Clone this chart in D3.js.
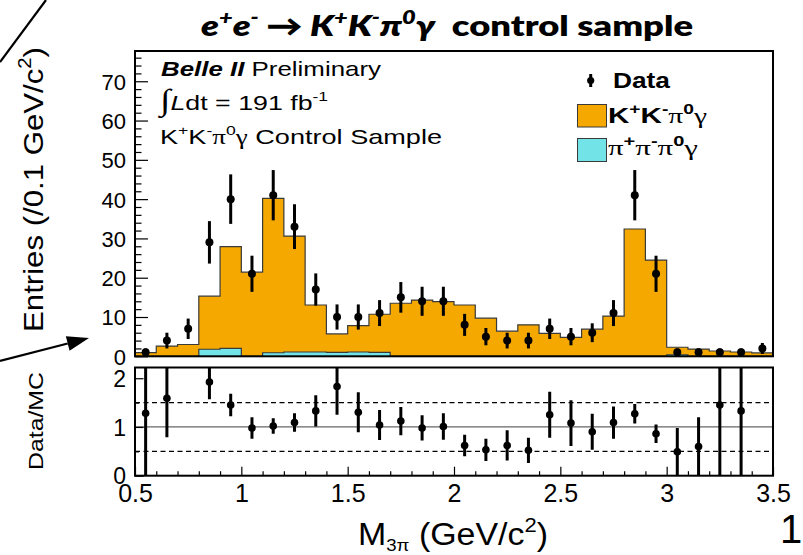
<!DOCTYPE html>
<html><head><meta charset="utf-8">
<script src="https://cdn.jsdelivr.net/npm/d3@7"></script>
<style>body{margin:0;background:#fff} text{white-space:pre}</style>
</head><body>
<svg id="c" width="803" height="555" xmlns="http://www.w3.org/2000/svg"></svg>
<script>
// ---------- data ----------
const binLo = [0.5,0.6,0.7,0.8,0.9,1.0,1.1,1.2,1.3,1.4,1.5,1.6,1.7,1.8,1.9,2.0,2.1,2.2,2.3,2.4,2.5,2.6,2.7,2.8,2.9,3.0,3.1,3.2,3.3,3.4];
const binWidth = 0.1;
const dataCounts = [1,4,7,29,40,21,41,33,17,10,10,11,15,14,14,8,5,4,4,7,5,6,11,41,21,1,1,1,1,2];
const dataErr   = [1,2,2.6,5.4,6.3,4.6,6.4,5.7,4.1,3.2,3.2,3.3,3.9,3.7,3.7,2.8,2.2,2,2,2.6,2.2,2.4,3.3,6.4,4.6,1,1,1,1,1.4];
const kkpi0g    = [0.92,2.6,3.0,13.5,25.9,21.4,39.3,29.5,11.95,4.7,6.7,9.7,13.5,14.3,13.9,13.05,9.7,6.4,8.0,5.85,4.8,6.9,10.25,32.4,24.5,1.9,1.85,1.35,1.1,0.85];
const pipipi0g  = [0,0,0,1.8,2.0,0,0.9,1.1,1.1,1.0,1.1,1.0,0,0,0,0,0,0,0,0,0,0,0,0,0,0.4,0,0,0,0];
const ratio     = [1.28,1.59,2.41,1.92,1.45,0.98,1.02,1.09,1.33,1.83,1.30,1.04,1.12,0.98,1.01,0.62,0.53,0.62,0.52,1.25,1.08,0.90,1.09,1.27,0.86,0.49,0.60,1.45,1.33,2.40];
const ratioErr  = [1.3,0.8,0.9,0.35,0.23,0.22,0.16,0.19,0.32,0.58,0.41,0.31,0.29,0.26,0.27,0.22,0.23,0.31,0.26,0.47,0.47,0.37,0.33,0.2,0.19,0.49,0.6,1.45,1.33,1.7];
const yTicksMain = [0,10,20,30,40,50,60,70];
const yMinorMain = [2,4,6,8,12,14,16,18,22,24,26,28,32,34,36,38,42,44,46,48,52,54,56,58,62,64,66,68,72,74,76];
const xTicks = [0.5,1,1.5,2,2.5,3,3.5];
const xTickLabels = ["0.5","1","1.5","2","2.5","3","3.5"];
const xMinor = [0.6,0.7,0.8,0.9,1.1,1.2,1.3,1.4,1.6,1.7,1.8,1.9,2.1,2.2,2.3,2.4,2.6,2.7,2.8,2.9,3.1,3.2,3.3,3.4];
const yTicksRatio = [0,1,2];
const yMinorRatio = [0.5,1.5];
const refLines = [0.5,1,1.5];

// ---------- layout ----------
const svg = d3.select("#c");
const L = 135, R = 773;
const mainTop = 51, mainBot = 356.3;
const ratTop = 367.5, ratBot = 475.7;
const ORANGE = "#f5a900", TEAL = "#72e4e8", EDGE = "#3a3a3a";
const SANS = "'Liberation Sans', Arial, sans-serif";
const SERIF = "'Liberation Serif', 'Times New Roman', serif";

const x = d3.scaleLinear().domain([0.5,3.5]).range([L,R]);
const y = d3.scaleLinear().domain([0,77.7]).range([mainBot,mainTop]);
const yr = d3.scaleLinear().domain([0,2.22]).range([ratBot,ratTop]);

function rich(t, parts, fs){
  let cur = 0;
  for(const p of parts){
    const off = p.sup ? -0.42*fs : (p.sub ? (p.subOff||0.32)*fs : 0);
    const ts = t.append("tspan").attr("dy", off-cur).text(p.t);
    cur = off;
    if(p.sup||p.sub) ts.attr("font-size", (p.ss||0.65)*fs);
    if(p.ff) ts.attr("font-family", p.ff);
    if(p.fw) ts.attr("font-weight", p.fw);
    if(p.fst) ts.attr("font-style", p.fst);
    if(p.fs) ts.attr("font-size", p.fs);
  }
  return t;
}

// ---------- main histogram ----------
const rows = binLo.map((lo,i)=>({lo, pipi:pipipi0g[i], kk:kkpi0g[i]}));
rows.push({lo: binLo[binLo.length-1]+binWidth, pipi: pipipi0g[pipipi0g.length-1], kk: kkpi0g[kkpi0g.length-1]});
const stack = d3.stack().keys(["pipi","kk"])(rows);
const gMain = svg.append("g");
const area = d3.area().curve(d3.curveStepAfter).x(d=>x(d.data.lo)).y0(y(0)).y1(d=>y(d[1]));
const topLine = d3.line().curve(d3.curveStepAfter).x(d=>x(d.data.lo)).y(d=>y(d[1]));
gMain.append("path").datum(stack[1]).attr("d", area).attr("fill", ORANGE);
gMain.append("path").datum(stack[1]).attr("d", topLine).attr("fill","none").attr("stroke",EDGE).attr("stroke-width",1.2);
gMain.append("path").datum(stack[0]).attr("d", area).attr("fill", TEAL);
gMain.append("path").datum(stack[0]).attr("d", topLine).attr("fill","none").attr("stroke",EDGE).attr("stroke-width",1.2);
gMain.append("path").attr("d", `M${x(0.5)},${y(0)}V${y(stack[1][0][1])}M${x(3.5)},${y(0)}V${y(stack[1][29][1])}`)
  .attr("stroke",EDGE).attr("stroke-width",1.2);

// data points main
const centers = binLo.map(v=>v+binWidth/2);
const gData = svg.append("g");
gData.selectAll("line").data(centers).join("line")
  .attr("x1",d=>x(d)).attr("x2",d=>x(d))
  .attr("y1",(d,i)=>y(Math.min(77.7,dataCounts[i]+dataErr[i])))
  .attr("y2",(d,i)=>y(Math.max(0,dataCounts[i]-dataErr[i])))
  .attr("stroke","#000").attr("stroke-width",3);
gData.selectAll("circle").data(centers).join("circle")
  .attr("cx",d=>x(d)).attr("cy",(d,i)=>y(dataCounts[i])).attr("r",4).attr("fill","#000");

// main frame
svg.append("rect").attr("x",L).attr("y",mainTop).attr("width",R-L).attr("height",mainBot-mainTop)
  .attr("fill","none").attr("stroke","#000").attr("stroke-width",2);

// main y axis
const axMain = svg.append("g").attr("transform",`translate(${L},0)`)
  .call(d3.axisLeft(y).tickValues(yTicksMain).tickSize(-13).tickPadding(9).tickFormat(d3.format("d")));
axMain.select(".domain").remove();
axMain.selectAll("line").attr("stroke-width",1.2);
axMain.selectAll("text").attr("font-family",SANS).attr("font-size",22).attr("fill","#000").attr("dy","0.36em");
const axMainMinor = svg.append("g").attr("transform",`translate(${L},0)`)
  .call(d3.axisLeft(y).tickValues(yMinorMain).tickSize(-6.5).tickFormat(""));
axMainMinor.select(".domain").remove();
axMainMinor.selectAll("line").attr("stroke-width",1.2);

// ---------- ratio panel ----------
svg.append("clipPath").attr("id","rclip").append("rect")
  .attr("x",L).attr("y",ratTop).attr("width",R-L).attr("height",ratBot-ratTop);
const gR = svg.append("g").attr("clip-path","url(#rclip)");
gR.selectAll("line.ref").data(refLines).join("line").attr("class","ref")
  .attr("x1",L).attr("x2",R).attr("y1",d=>yr(d)).attr("y2",d=>yr(d))
  .attr("stroke",d=>d===1?"#666":"#000").attr("stroke-width",1.2)
  .attr("stroke-dasharray",d=>d===1?null:"5,3.5");
const rIdx = centers.map((c,i)=>i).filter(i=>ratio[i] <= 2.22);
gR.selectAll("line.err").data(rIdx).join("line").attr("class","err")
  .attr("x1",i=>x(centers[i])).attr("x2",i=>x(centers[i]))
  .attr("y1",i=>yr(ratio[i]+ratioErr[i])).attr("y2",i=>yr(Math.max(-0.1,ratio[i]-ratioErr[i])))
  .attr("stroke","#000").attr("stroke-width",3);
gR.selectAll("circle").data(rIdx).join("circle")
  .attr("cx",i=>x(centers[i])).attr("cy",i=>yr(ratio[i])).attr("r",3.8).attr("fill","#000");

svg.append("rect").attr("x",L).attr("y",ratTop).attr("width",R-L).attr("height",ratBot-ratTop)
  .attr("fill","none").attr("stroke","#000").attr("stroke-width",2);

const axRX = svg.append("g").attr("transform",`translate(0,${ratBot})`)
  .call(d3.axisBottom(x).tickValues(xTicks).tickSize(-9).tickPadding(9).tickFormat((d,i)=>xTickLabels[i]));
axRX.select(".domain").remove();
axRX.selectAll("line").attr("stroke-width",1.2);
axRX.selectAll("text").attr("font-family",SANS).attr("font-size",25).attr("fill","#000");
const axRXm = svg.append("g").attr("transform",`translate(0,${ratBot})`)
  .call(d3.axisBottom(x).tickValues(xMinor).tickSize(-4.5).tickFormat(""));
axRXm.select(".domain").remove();
axRXm.selectAll("line").attr("stroke-width",1.2);

const axRY = svg.append("g").attr("transform",`translate(${L},0)`)
  .call(d3.axisLeft(yr).tickValues(yTicksRatio).tickSize(-8.5).tickPadding(9).tickFormat(d3.format("d")));
axRY.select(".domain").remove();
axRY.selectAll("line").attr("stroke-width",1.2);
axRY.selectAll("text").attr("font-family",SANS).attr("font-size",23).attr("fill","#000").attr("dy","0.36em");
const axRYm = svg.append("g").attr("transform",`translate(${L},0)`)
  .call(d3.axisLeft(yr).tickValues(yMinorRatio).tickSize(-4).tickFormat(""));
axRYm.select(".domain").remove();
axRYm.selectAll("line").attr("stroke-width",1.2);

// ---------- texts ----------
const SUP = true;
rich(svg.append("text").attr("x",201).attr("y",36).attr("font-family","Lato, 'Open Sans', sans-serif")
  .attr("font-weight",800).attr("font-style","italic").attr("font-size",29)
  .attr("textLength",492).attr("lengthAdjust","spacingAndGlyphs"),
  [{t:"e"},{t:"+",sup:SUP},{t:"e"},{t:"-",sup:SUP},{t:" → "},{t:"K"},{t:"+",sup:SUP},{t:"K"},{t:"-",sup:SUP},
   {t:"π"},{t:"0",sup:SUP},{t:"γ"},{t:"  control sample",fst:"normal"}], 29);

rich(svg.append("text").attr("x",161).attr("y",76).attr("font-family",SANS).attr("font-size",21)
  .attr("textLength",220).attr("lengthAdjust","spacingAndGlyphs"),
  [{t:"Belle II",fw:"bold",fst:"italic"},{t:" Preliminary"}], 21);
rich(svg.append("text").attr("x",160).attr("y",110).attr("font-family",SANS).attr("font-size",21)
  .attr("textLength",168).attr("lengthAdjust","spacingAndGlyphs"),
  [{t:"∫",ff:SERIF,fs:30},{t:"L",fst:"italic"},{t:"dt = 191 fb"},{t:"-1",sup:SUP}], 21);
rich(svg.append("text").attr("x",160).attr("y",144).attr("font-family",SANS).attr("font-size",21)
  .attr("textLength",282).attr("lengthAdjust","spacingAndGlyphs"),
  [{t:"K"},{t:"+",sup:SUP},{t:"K"},{t:"-",sup:SUP},{t:"π",ff:SERIF},{t:"0",sup:SUP},{t:"γ",ff:SERIF},{t:" Control Sample"}], 21);

// Legend
svg.append("line").attr("x1",590.7).attr("x2",590.7).attr("y1",74).attr("y2",87).attr("stroke","#000").attr("stroke-width",3);
svg.append("circle").attr("cx",590.7).attr("cy",80.5).attr("r",3.6).attr("fill","#000");
svg.append("text").attr("x",613).attr("y",88).attr("font-family",SANS).attr("font-weight","bold").attr("font-size",22)
  .attr("textLength",57).attr("lengthAdjust","spacingAndGlyphs").text("Data");
svg.append("rect").attr("x",577.5).attr("y",104.5).attr("width",29).attr("height",22.5).attr("fill",ORANGE).attr("stroke",EDGE).attr("stroke-width",1);
svg.append("rect").attr("x",577.5).attr("y",138.5).attr("width",29).attr("height",23).attr("fill",TEAL).attr("stroke",EDGE).attr("stroke-width",1);
rich(svg.append("text").attr("x",608).attr("y",123).attr("font-family",SANS).attr("font-size",22)
  .attr("textLength",99).attr("lengthAdjust","spacingAndGlyphs"),
  [{t:"K",fw:"bold"},{t:"+",sup:SUP,fw:"bold"},{t:"K",fw:"bold"},{t:"-",sup:SUP,fw:"bold"},{t:"π",ff:SERIF},{t:"0",sup:SUP,fw:"bold"},{t:"γ",ff:SERIF}], 22);
rich(svg.append("text").attr("x",608).attr("y",155).attr("font-family",SANS).attr("font-size",22)
  .attr("textLength",90).attr("lengthAdjust","spacingAndGlyphs"),
  [{t:"π",ff:SERIF},{t:"+",sup:SUP,fw:"bold"},{t:"π",ff:SERIF},{t:"-",sup:SUP,fw:"bold"},{t:"π",ff:SERIF},{t:"0",sup:SUP,fw:"bold"},{t:"γ",ff:SERIF}], 22);

// Axis titles
rich(svg.append("text").attr("transform","translate(43,332) rotate(-90)").attr("font-family",SANS).attr("font-size",28)
  .attr("textLength",285).attr("lengthAdjust","spacingAndGlyphs"),
  [{t:"Entries (/0.1 GeV/c"},{t:"2",sup:SUP},{t:")"}], 28);
svg.append("text").attr("transform","translate(43,470) rotate(-90)").attr("font-family",SANS).attr("font-size",21)
  .attr("textLength",98).attr("lengthAdjust","spacingAndGlyphs").text("Data/MC");
rich(svg.append("text").attr("x",358).attr("y",545).attr("font-family",SANS).attr("font-size",31)
  .attr("textLength",190).attr("lengthAdjust","spacingAndGlyphs"),
  [{t:"M"},{t:"3π",sub:true,ss:0.55,subOff:0.2},{t:" (GeV/c"},{t:"2",sup:SUP},{t:")"}], 31);

svg.append("text").attr("x",780).attr("y",543).attr("font-family",SANS).attr("font-size",40).text("1");

// Annotations: diagonal line & arrow
svg.append("line").attr("x1",0).attr("y1",62).attr("x2",46).attr("y2",0).attr("stroke","#000").attr("stroke-width",2.2);
(function(){
  const x0=0,y0=361,x1=89,y1=338;
  const ang=Math.atan2(y1-y0,x1-x0), hl=22, hw=7.5;
  const bx=x1-hl*Math.cos(ang), by=y1-hl*Math.sin(ang);
  svg.append("line").attr("x1",x0).attr("y1",y0).attr("x2",bx).attr("y2",by).attr("stroke","#000").attr("stroke-width",2.2);
  const px=-Math.sin(ang), py=Math.cos(ang);
  svg.append("path").attr("d",`M${x1},${y1}L${bx+px*hw},${by+py*hw}L${bx-px*hw},${by-py*hw}Z`).attr("fill","#000");
})();
</script>
</body></html>
